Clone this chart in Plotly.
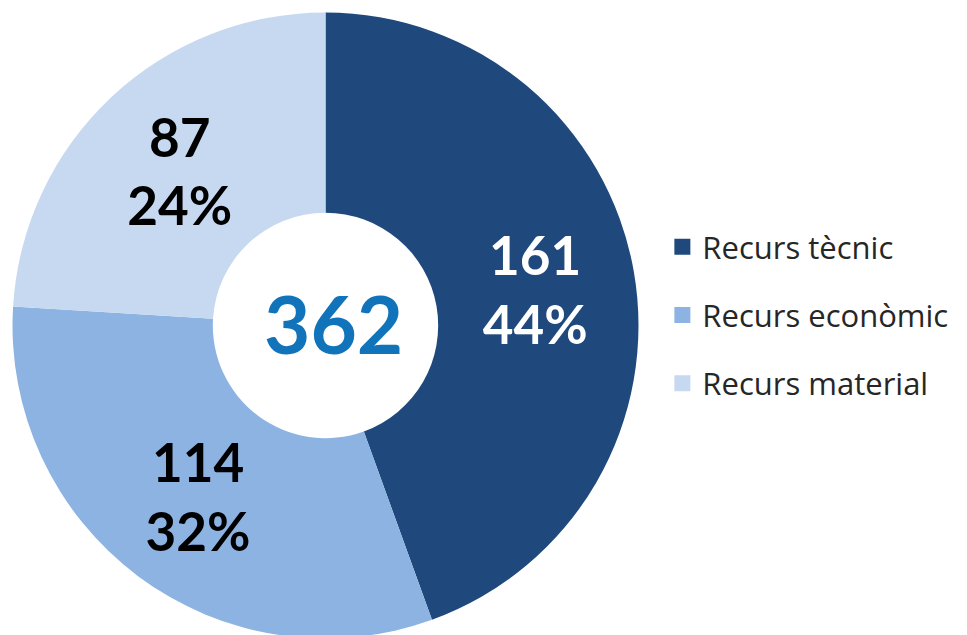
import plotly.graph_objects as go

categories = ["Recurs tècnic", "Recurs econòmic", "Recurs material"]
values = [161, 114, 87]
percent_labels = [44, 32, 24]
colors = ["#1F497D", "#8DB3E2", "#C6D9F1"]
text_colors = ["#FFFFFF", "#000000", "#000000"]

W, H = 967, 635
# page body has an 8px margin; compensate so the donut centre lands at (325.5, 325.5)
cx, cy, R = 317.5, 317.5, 313
dom_x = [(cx - R) / W, (cx + R) / W]
dom_y = [(H - cy - R) / H, (H - cy + R) / H]

fig = go.Figure()
fig.add_trace(go.Pie(
    labels=categories,
    values=values,
    customdata=percent_labels,
    texttemplate="<b>%{value}</b><br><b>%{customdata}%</b>",
    textposition="inside",
    insidetextorientation="horizontal",
    insidetextfont=dict(family="Lato", size=53, color=text_colors),
    marker=dict(colors=colors, line=dict(width=0)),
    hole=0.36,
    sort=False,
    direction="clockwise",
    rotation=0,
    showlegend=False,
    domain=dict(x=dom_x, y=dom_y),
))

for i, (cat, col) in enumerate(zip(categories, colors)):
    fig.add_trace(go.Scatter(
        x=[None], y=[None], mode="markers", name=cat,
        marker=dict(symbol="square", size=16, color=col),
        legendgroup="g%d" % i, showlegend=True,
    ))

fig.add_annotation(
    x=(dom_x[0] + dom_x[1]) / 2, y=(dom_y[0] + dom_y[1]) / 2,
    xref="paper", yref="paper", xanchor="center", yanchor="middle",
    xshift=8, yshift=3,
    showarrow=False,
    text="<b>%d</b>" % sum(values),
    font=dict(family="Lato", size=80, color="#1174BA"),
)

fig.update_layout(
    width=W, height=H,
    margin=dict(l=0, r=0, t=0, b=0),
    paper_bgcolor="white", plot_bgcolor="white",
    xaxis=dict(visible=False), yaxis=dict(visible=False),
    legend=dict(
        x=0.6767, y=0.5165, xanchor="left", yanchor="middle",
        font=dict(family="Open Sans", size=31, color="#262626"),
        tracegroupgap=25, itemclick=False,
    ),
)

fig.write_html("out.html")
